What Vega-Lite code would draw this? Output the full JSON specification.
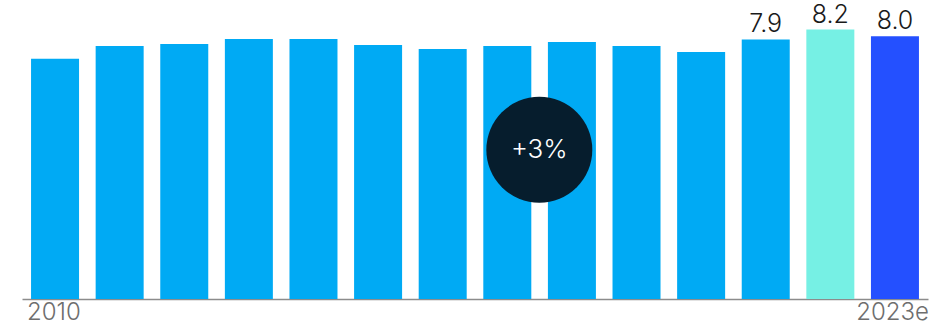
{
  "$schema": "https://vega.github.io/schema/vega-lite/v6.json",
  "width": 906,
  "height": 299,
  "autosize": {"type": "none"},
  "padding": {"left": 22, "top": 0, "right": 22, "bottom": 28},
  "background": "white",
  "config": {"view": {"stroke": null}, "font": "Inter"},
  "datasets": {
    "bars": [
      {"year": "2010", "value": 7.31, "kind": "actual"},
      {"year": "2011", "value": 7.70, "kind": "actual"},
      {"year": "2012", "value": 7.76, "kind": "actual"},
      {"year": "2013", "value": 7.91, "kind": "actual"},
      {"year": "2014", "value": 7.91, "kind": "actual"},
      {"year": "2015", "value": 7.73, "kind": "actual"},
      {"year": "2016", "value": 7.61, "kind": "actual"},
      {"year": "2017", "value": 7.70, "kind": "actual"},
      {"year": "2018", "value": 7.82, "kind": "actual"},
      {"year": "2019", "value": 7.70, "kind": "actual"},
      {"year": "2020", "value": 7.52, "kind": "actual"},
      {"year": "2021", "value": 7.9, "kind": "actual"},
      {"year": "2022", "value": 8.2, "kind": "prior"},
      {"year": "2023e", "value": 8.0, "kind": "estimate"}
    ],
    "badge": [
      {"year": "2017", "value": 4.54, "text": "+3%"}
    ]
  },
  "layer": [
    {
      "data": {"name": "bars"},
      "mark": {"type": "bar"},
      "encoding": {
        "x": {
          "field": "year", "type": "nominal", "sort": null,
          "scale": {"paddingInner": 0.257, "paddingOuter": 0.14},
          "axis": {
            "title": null,
            "ticks": false,
            "domainColor": "#8c8c8c",
            "domainWidth": 1.3,
            "labelAngle": 0,
            "labelFontSize": 24,
            "labelFontWeight": 300,
            "labelColor": "#6e6e6e",
            "labelFont": "Inter",
            "labelPadding": 1,
            "labelOverlap": false,
            "labelExpr": "datum.value == '2010' || datum.value == '2023e' ? datum.value : ''",
            "labelAlign": {"condition": {"test": "datum.value == '2010'", "value": "left"}, "value": "right"},
            "labelOffset": {"condition": {"test": "datum.value == '2010'", "value": -28}, "value": 34}
          }
        },
        "y": {
          "field": "value", "type": "quantitative",
          "scale": {"domain": [0, 9.1], "nice": false},
          "axis": null
        },
        "color": {
          "field": "kind", "type": "nominal",
          "scale": {"domain": ["actual", "prior", "estimate"], "range": ["#00aaf4", "#76f0e4", "#2450ff"]},
          "legend": null
        }
      }
    },
    {
      "data": {"name": "bars"},
      "transform": [{"filter": {"field": "year", "oneOf": ["2021", "2022", "2023e"]}}],
      "mark": {"type": "text", "baseline": "alphabetic", "dy": -7, "fontSize": 25, "fontWeight": 300, "color": "#1a1a1a", "font": "Inter"},
      "encoding": {
        "x": {"field": "year", "type": "nominal", "sort": null},
        "y": {"field": "value", "type": "quantitative"},
        "text": {"field": "value", "type": "quantitative", "format": ".1f"}
      }
    },
    {
      "data": {"name": "badge"},
      "mark": {"type": "point", "shape": "circle", "filled": true, "size": 11236, "color": "#061d2d", "opacity": 1},
      "encoding": {
        "x": {"field": "year", "type": "nominal", "bandPosition": 1.167},
        "y": {"field": "value", "type": "quantitative"}
      }
    },
    {
      "data": {"name": "badge"},
      "mark": {"type": "text", "fontSize": 26, "fontWeight": 300, "color": "white", "font": "Inter", "baseline": "middle", "align": "center"},
      "encoding": {
        "x": {"field": "year", "type": "nominal", "bandPosition": 1.167},
        "y": {"field": "value", "type": "quantitative"},
        "text": {"field": "text", "type": "nominal"}
      }
    }
  ]
}
